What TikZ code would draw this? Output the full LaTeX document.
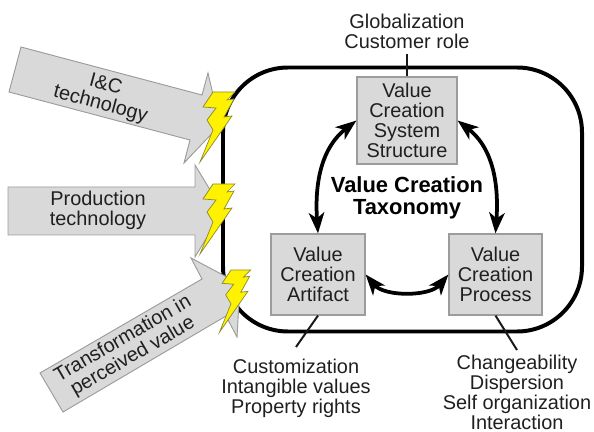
\documentclass[tikz,border=0pt]{standalone}
\usepackage{fontspec}
\setmainfont{Liberation Sans}
\usetikzlibrary{arrows.meta}
\definecolor{boxgray}{HTML}{D9D9D9}
\definecolor{rimgray}{HTML}{9C9C9C}
\definecolor{boltrim}{HTML}{8C8A30}
\def\px{0.03cm}
\tikzset{
	lbl/.style={align=center,inner sep=0pt,text=black!88,font=\fontsize{17}{17}\selectfont},
	valuebox/.style={lbl,draw=rimgray,fill=boxgray,line width=1pt,minimum width=#1*\px,minimum height=84*\px},
	bigarrow/.style={draw=rimgray,fill=boxgray,line width=.8pt,line join=miter},
	flow/.style={line width=3.2pt,{Stealth[length=.62cm,width=.46cm,inset=.17cm]}-{Stealth[length=.62cm,width=.46cm,inset=.17cm]}},
	tick/.style={line width=1.7pt,black!90},
	bolt/.pic={
		\fill[yellow,draw=boltrim,line width=.6pt,line join=miter] (0,0)--(22,0)--(14,8)--(21,7)--(11,25)--(19,24)
		--(-13,70)--(0,38)--(-6,28)--(3,16)--(-10,15)--cycle;
	}
}
\begin{document}
\begin{tikzpicture}[x=\px,y=-\px]
	\useasboundingbox (0,0) rectangle (594,432);
	%frame
	\node[draw,line width=3.4pt,rounded corners=65*\px,minimum width=359*\px,minimum height=264*\px,inner sep=0pt] (frame) at (402.5,199.5) {};
	
	%arrows from the left
	\draw[bigarrow] (21,47)--(202,95)--(208,73)--(220,125)--(184,163)--(190,140)--(9,92)--cycle;
	\draw[bigarrow] (8,187)--(195,187)--(195,165)--(223,211)--(195,257)--(195,235)--(8,235)--cycle;
	\draw[bigarrow] (40,373)--(202,279)--(191,258)--(240,284)--(237,337)--(226,316)--(63,412)--cycle;
	\node[lbl,rotate=-15] (icttext) at (103,95) {I\&C\\technology};
	\node[lbl] (prodtext) at (98,210) {Production\\technology};
	\node[lbl,rotate=30] (perctext) at (128,348) {Transformation in\\perceived value};
	
	\path (213,92) pic {bolt};
	\path (213,184) pic {bolt};
	\path (231,270) pic[scale=.89] {bolt};
	
	%the three boxes
	\node[valuebox=100,minimum height=87*\px] (system) at (407,120.5) {Value\\Creation\\System\\Structure};
	\node[valuebox=94,minimum height=81*\px] (artifact) at (318,274.5) {Value\\Creation\\Artifact};
	\node[valuebox=93,minimum height=81*\px] (process) at (495.5,274.5) {Value\\Creation\\Process};
	\node[lbl,font=\fontsize{18.7}{18.4}\selectfont\bfseries,text=black] (taxonomy) at (407,198) {Value Creation\\Taxonomy};
	
	\draw[flow] (system.west) to[out=218,in=94] (artifact.north);
	\draw[flow] (system.east) to[out=-38,in=86] (process.north);
	\draw[flow] (artifact.east) to[out=-50,in=230,looseness=.9] (process.west);
	
	%lists
	\node[lbl] (toplist) at (407,31) {Globalization\\Customer role};
	\node[lbl] (artlist) at (296,388) {Customization\\Intangible values\\Property rights};
	\node[lbl] (proclist) at (517,392.5) {Changeability\\Dispersion\\Self organization\\Interaction};
	\coordinate (toptick) at (407,54);
	\coordinate (arttick) at (296,347);
	\coordinate (proctick) at (517,350);
	\draw[tick] (system.north)--(toptick);
	\draw[tick] (artifact.south)--(arttick);
	\draw[tick] (process.south)--(proctick);
\end{tikzpicture}
\end{document}
